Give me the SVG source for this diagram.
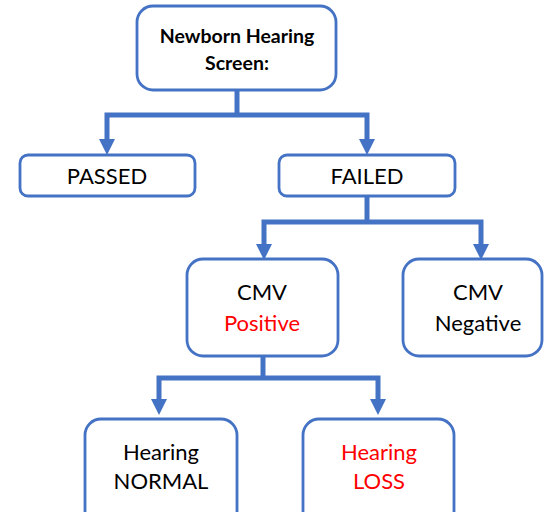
<svg xmlns="http://www.w3.org/2000/svg" width="544" height="512" viewBox="0 0 544 512">
<defs>
<style>
.box{fill:#fff;stroke:#4472C4;stroke-width:2.8}
.t{font-family:Lato,"Liberation Sans",sans-serif;font-size:22px;fill:#000;text-anchor:middle}
.b{font-weight:bold;font-size:19.5px}
.red{fill:#FF0000}
.c{fill:none;stroke:#4472C4;stroke-width:5;stroke-linejoin:miter}
</style>
<marker id="ah" markerUnits="userSpaceOnUse" markerWidth="16" markerHeight="16" refX="6" refY="8" orient="auto-start-reverse" viewBox="0 0 16 16">
<path d="M0,0 L16,8 L0,16 z" fill="#4472C4"/>
</marker>
</defs>
<rect width="544" height="512" fill="#fff"/>
<g id="connectors">
<path class="c" d="M237,90 V115"/>
<path class="c" d="M107,145 V115 H367 V145" marker-start="url(#ah)" marker-end="url(#ah)"/>
<path class="c" d="M367,197 V222"/>
<path class="c" d="M264,250 V222 H481 V250" marker-start="url(#ah)" marker-end="url(#ah)"/>
<path class="c" d="M263,356 V378"/>
<path class="c" d="M159,405 V378 H378 V405" marker-start="url(#ah)" marker-end="url(#ah)"/>
</g>
<g id="screen">
<rect class="box" x="137" y="6" width="199" height="84" rx="16"/>
<text class="t b" x="237" y="43">Newborn Hearing</text>
<text class="t b" x="237" y="70">Screen:</text>
</g>
<g id="passed">
<rect class="box" x="20" y="155" width="175" height="41" rx="8"/>
<text class="t" x="107" y="184">PASSED</text>
</g>
<g id="failed">
<rect class="box" x="279" y="155" width="176" height="41" rx="8"/>
<text class="t" x="367" y="184">FAILED</text>
</g>
<g id="cmvpos">
<rect class="box" x="187" y="259" width="151" height="97" rx="16"/>
<text class="t" x="262" y="300">CMV</text>
<text class="t red" x="262" y="331">Positive</text>
</g>
<g id="cmvneg">
<rect class="box" x="403" y="259" width="139" height="97" rx="16"/>
<text class="t" x="478" y="300">CMV</text>
<text class="t" x="478" y="331">Negative</text>
</g>
<g id="normal">
<rect class="box" x="85" y="419" width="152" height="110" rx="16"/>
<text class="t" x="161" y="460">Hearing</text>
<text class="t" x="161" y="489">NORMAL</text>
</g>
<g id="loss">
<rect class="box" x="303" y="419" width="151" height="110" rx="16"/>
<text class="t red" x="379" y="460">Hearing</text>
<text class="t red" x="379" y="489">LOSS</text>
</g>
</svg>
